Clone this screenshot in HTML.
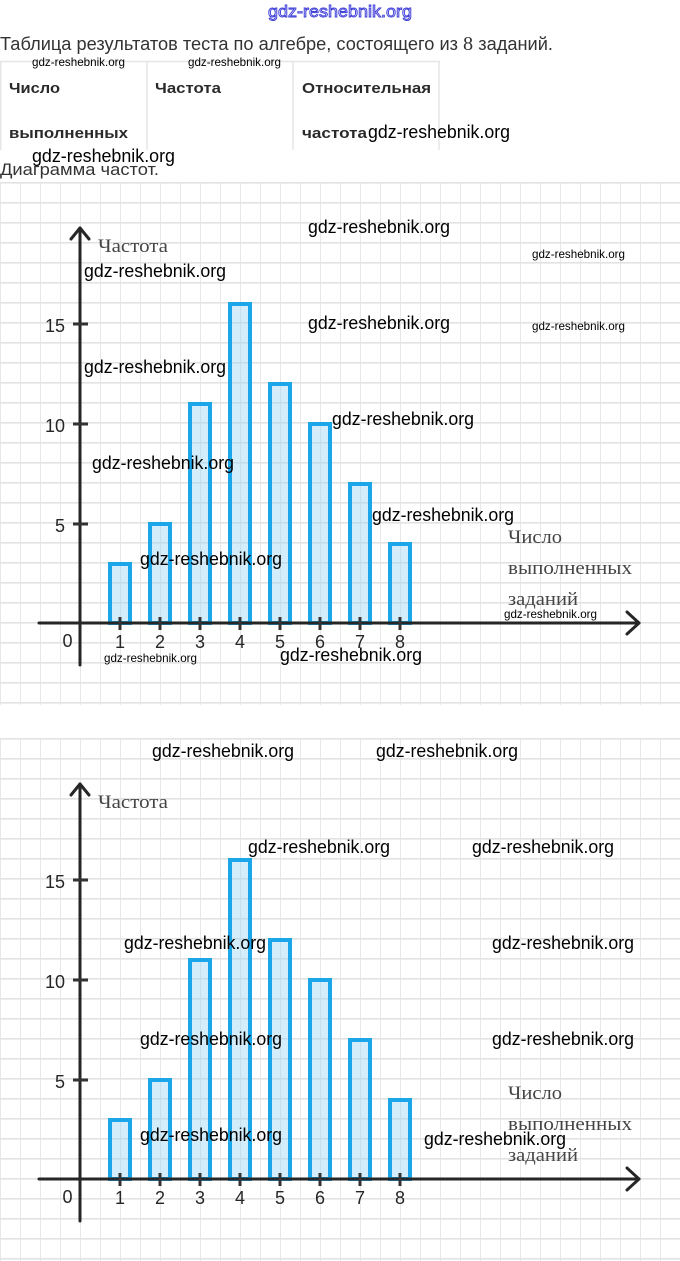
<!DOCTYPE html>
<html><head><meta charset="utf-8"><style>
html,body{margin:0;padding:0;background:#fff;}
svg{display:block;}
.wm{font-family:"Liberation Sans",sans-serif;font-size:18px;fill:#000;}
.ws{font-family:"Liberation Sans",sans-serif;font-size:12px;fill:#000;}
.tk{font-family:"Liberation Sans",sans-serif;font-size:18px;fill:#262626;}
.sf{font-family:"Liberation Serif","Noto Serif CJK SC",serif;font-size:19px;fill:#444;}
.th{font-family:"Liberation Sans",sans-serif;font-size:15px;font-weight:bold;fill:#2a2a2a;}
.s8{font-family:"Liberation Serif",serif;font-size:20px;}
</style></head><body>
<svg width="680" height="1261" viewBox="0 0 680 1261" xmlns="http://www.w3.org/2000/svg">
<defs>
<pattern id="g1" patternUnits="userSpaceOnUse" x="0" y="182" width="20" height="20">
<rect x="0" y="0" width="20" height="1.6" fill="#e2e2e2"/><rect x="-0.8" y="0" width="1.6" height="20" fill="#e2e2e2"/>
</pattern>
<pattern id="g2" patternUnits="userSpaceOnUse" x="0" y="738" width="20" height="20">
<rect x="0" y="0" width="20" height="1.6" fill="#e2e2e2"/><rect x="-0.8" y="0" width="1.6" height="20" fill="#e2e2e2"/>
</pattern>
<g id="chart">
<g fill="rgba(150,212,243,0.42)" stroke="#1aa6e9" stroke-width="4">
<rect x="110" y="564" width="20" height="59"/>
<rect x="150" y="524" width="20" height="99"/>
<rect x="190" y="404" width="20" height="219"/>
<rect x="230" y="304" width="20" height="319"/>
<rect x="270" y="384" width="20" height="239"/>
<rect x="310" y="424" width="20" height="199"/>
<rect x="350" y="484" width="20" height="139"/>
<rect x="390" y="544" width="20" height="79"/>
</g>
<g stroke="#262626" stroke-width="3" fill="none" stroke-linecap="round" stroke-linejoin="round">
<line x1="80" y1="228" x2="80" y2="665"/>
<polyline points="71,239 80,228 89,239"/>
<line x1="39" y1="623" x2="639" y2="623"/>
<polyline points="627,612 639,623 627,634"/>
</g>
<g stroke="#333" stroke-width="3">
<line x1="73" y1="324" x2="88" y2="324"/>
<line x1="73" y1="424" x2="88" y2="424"/>
<line x1="73" y1="524" x2="88" y2="524"/>
<line x1="120" y1="617" x2="120" y2="630"/>
<line x1="160" y1="617" x2="160" y2="630"/>
<line x1="200" y1="617" x2="200" y2="630"/>
<line x1="240" y1="617" x2="240" y2="630"/>
<line x1="280" y1="617" x2="280" y2="630"/>
<line x1="320" y1="617" x2="320" y2="630"/>
<line x1="360" y1="617" x2="360" y2="630"/>
<line x1="400" y1="617" x2="400" y2="630"/>
</g>
<text class="tk" x="65" y="332" text-anchor="end">15</text>
<text class="tk" x="65" y="432" text-anchor="end">10</text>
<text class="tk" x="65" y="532" text-anchor="end">5</text>
<text class="tk" x="67.5" y="647" text-anchor="middle">0</text>
<g class="tk" text-anchor="middle">
<text x="120" y="648">1</text><text x="160" y="648">2</text><text x="200" y="648">3</text><text x="240" y="648">4</text>
<text x="280" y="648">5</text><text x="320" y="648">6</text><text x="360" y="648">7</text><text x="400" y="648">8</text>
</g>
<text class="sf" x="98" y="252" textLength="70" lengthAdjust="spacingAndGlyphs">Частота</text>
<text class="sf" x="508" y="543" textLength="54" lengthAdjust="spacingAndGlyphs">Число</text>
<text class="sf" x="508" y="574" textLength="124" lengthAdjust="spacingAndGlyphs">выполненных</text>
<text class="sf" x="508" y="605" textLength="70" lengthAdjust="spacingAndGlyphs">заданий</text>
</g>
</defs>

<text x="268" y="17" font-family="Liberation Sans, sans-serif" font-size="17" fill="#e8e8ff" stroke="#3c3cd8" stroke-width="0.9" textLength="144" lengthAdjust="spacingAndGlyphs">gdz-reshebnik.org</text>

<text x="0" y="50" font-family="Liberation Sans, sans-serif" font-size="18" fill="#333" textLength="553" lengthAdjust="spacingAndGlyphs">Таблица результатов теста по алгебре, состоящего из <tspan class="s8">8</tspan> заданий.</text>

<g stroke="#e6e6e6" stroke-width="1.5" fill="none">
<line x1="0" y1="61.5" x2="440" y2="61.5"/>
<line x1="0.75" y1="61" x2="0.75" y2="150"/>
<line x1="147" y1="61" x2="147" y2="150"/>
<line x1="293" y1="61" x2="293" y2="150"/>
<line x1="439" y1="61" x2="439" y2="150"/>
</g>
<text class="th" x="9" y="93" textLength="51" lengthAdjust="spacingAndGlyphs">Число</text>
<text class="th" x="9" y="138" textLength="119" lengthAdjust="spacingAndGlyphs">выполненных</text>
<text class="th" x="155" y="93" textLength="66" lengthAdjust="spacingAndGlyphs">Частота</text>
<text class="th" x="302" y="93" textLength="129" lengthAdjust="spacingAndGlyphs">Относительная</text>
<text class="th" x="302" y="138" textLength="65" lengthAdjust="spacingAndGlyphs">частота</text>
<text class="ws" x="32" y="66" textLength="93" lengthAdjust="spacingAndGlyphs">gdz-reshebnik.org</text>
<text class="ws" x="188" y="66" textLength="93" lengthAdjust="spacingAndGlyphs">gdz-reshebnik.org</text>
<text class="wm" x="368" y="138" textLength="142" lengthAdjust="spacingAndGlyphs">gdz-reshebnik.org</text>

<text x="0" y="175" font-family="Liberation Sans, sans-serif" font-size="17" fill="#333" textLength="159" lengthAdjust="spacingAndGlyphs">Диаграмма частот.</text>

<rect x="0" y="182" width="680" height="523" fill="url(#g1)"/>
<rect x="0" y="738" width="680" height="523" fill="url(#g2)"/>

<text class="wm" x="32" y="162" textLength="143" lengthAdjust="spacingAndGlyphs">gdz-reshebnik.org</text>

<use href="#chart"/>
<use href="#chart" transform="translate(0,556)"/>

<g class="wm">
<text x="308" y="233" textLength="142" lengthAdjust="spacingAndGlyphs">gdz-reshebnik.org</text>
<text x="84" y="277" textLength="142" lengthAdjust="spacingAndGlyphs">gdz-reshebnik.org</text>
<text x="308" y="329" textLength="142" lengthAdjust="spacingAndGlyphs">gdz-reshebnik.org</text>
<text x="84" y="373" textLength="142" lengthAdjust="spacingAndGlyphs">gdz-reshebnik.org</text>
<text x="332" y="425" textLength="142" lengthAdjust="spacingAndGlyphs">gdz-reshebnik.org</text>
<text x="92" y="469" textLength="142" lengthAdjust="spacingAndGlyphs">gdz-reshebnik.org</text>
<text x="372" y="521" textLength="142" lengthAdjust="spacingAndGlyphs">gdz-reshebnik.org</text>
<text x="140" y="565" textLength="142" lengthAdjust="spacingAndGlyphs">gdz-reshebnik.org</text>
<text x="280" y="661" textLength="142" lengthAdjust="spacingAndGlyphs">gdz-reshebnik.org</text>
</g>
<g class="ws">
<text x="532" y="258" textLength="93" lengthAdjust="spacingAndGlyphs">gdz-reshebnik.org</text>
<text x="532" y="330" textLength="93" lengthAdjust="spacingAndGlyphs">gdz-reshebnik.org</text>
<text x="104" y="662" textLength="93" lengthAdjust="spacingAndGlyphs">gdz-reshebnik.org</text>
<text x="504" y="618" textLength="93" lengthAdjust="spacingAndGlyphs">gdz-reshebnik.org</text>
</g>

<g class="wm">
<text x="152" y="757" textLength="142" lengthAdjust="spacingAndGlyphs">gdz-reshebnik.org</text>
<text x="376" y="757" textLength="142" lengthAdjust="spacingAndGlyphs">gdz-reshebnik.org</text>
<text x="248" y="853" textLength="142" lengthAdjust="spacingAndGlyphs">gdz-reshebnik.org</text>
<text x="472" y="853" textLength="142" lengthAdjust="spacingAndGlyphs">gdz-reshebnik.org</text>
<text x="124" y="949" textLength="142" lengthAdjust="spacingAndGlyphs">gdz-reshebnik.org</text>
<text x="492" y="949" textLength="142" lengthAdjust="spacingAndGlyphs">gdz-reshebnik.org</text>
<text x="140" y="1045" textLength="142" lengthAdjust="spacingAndGlyphs">gdz-reshebnik.org</text>
<text x="492" y="1045" textLength="142" lengthAdjust="spacingAndGlyphs">gdz-reshebnik.org</text>
<text x="140" y="1141" textLength="142" lengthAdjust="spacingAndGlyphs">gdz-reshebnik.org</text>
<text x="424" y="1145" textLength="142" lengthAdjust="spacingAndGlyphs">gdz-reshebnik.org</text>
</g>
</svg>
</body></html>
